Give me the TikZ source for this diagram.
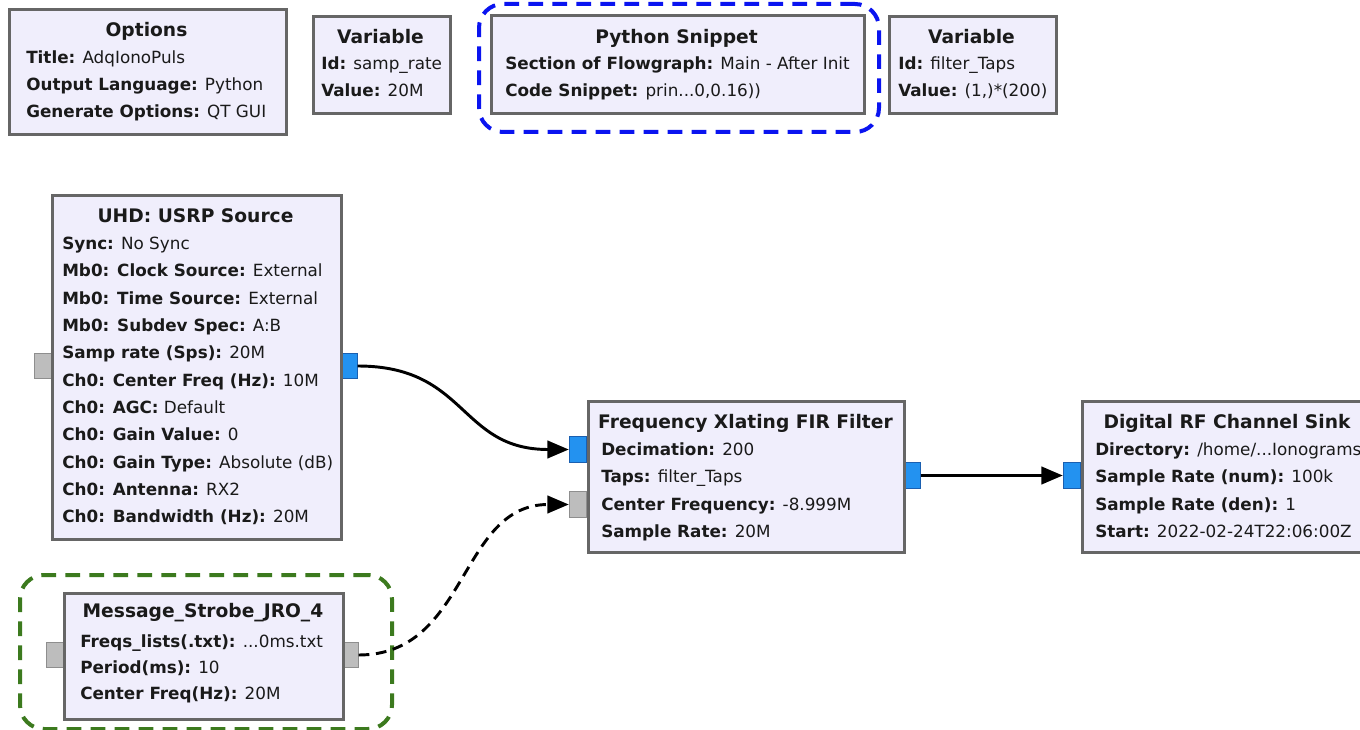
\documentclass[tikz,border=0pt]{standalone}
\usepackage{fontspec}
\setmainfont{DejaVu Sans}
\usetikzlibrary{arrows.meta}

\definecolor{blkfill}{HTML}{F0EEFC}
\definecolor{blkborder}{HTML}{666666}
\definecolor{txtcol}{HTML}{1A1A1A}
\definecolor{portblue}{HTML}{2392F0}
\definecolor{portblueedge}{HTML}{1A5FB0}
\definecolor{portgray}{HTML}{BDBDBD}
\definecolor{portgrayedge}{HTML}{8E8E8E}
\definecolor{hlblue}{HTML}{0A14F0}
\definecolor{hlgreen}{HTML}{3C7A1E}

\tikzset{
  blk/.style={draw=blkborder, fill=blkfill, line width=2.2pt},
  hl/.style={line width=3pt, dash pattern=on 11pt off 7pt, rounded corners=18pt},
  streamport/.style={draw=portblueedge, fill=portblue, line width=0.8pt},
  msgport/.style={draw=portgrayedge, fill=portgray, line width=0.8pt},
  ln/.style={anchor=mid west, inner sep=0pt, yshift=-1.5pt, font=\fontsize{12.6}{15}\selectfont, text=txtcol},
  ttl/.style={anchor=mid, inner sep=0pt, yshift=-2.2pt, font=\fontsize{14}{16}\selectfont\bfseries, text=txtcol},
  wire/.style={line width=2.2pt, -{Triangle[length=16pt,width=13pt]}},
  msgwire/.style={wire, dash pattern=on 8pt off 5pt},
}

% rectangle node given by its corners in pixel units
\newcommand\fgrect[6]{%
  \node[#1, rectangle, inner sep=0pt, anchor=north west,
        minimum width={(#5-#3)*0.75pt}, minimum height={(#6-#4)*0.75pt}]
        (#2) at (#3,#4) {};}
% port square centred at a point
\newcommand\fgport[4]{%
  \node[#1, rectangle, inner sep=0pt, minimum width=13pt, minimum height=19pt]
        (#2) at (#3,#4) {};}

\begin{document}
\begin{tikzpicture}[x=0.75pt, y=-0.75pt]
\clip (0,0) rectangle (1360,730);
\fill[white] (0,0) rectangle (1360,730);

% ---------- top row: options and variables ----------
\fgrect{blk}{opt}{8}{8}{285}{133}
\node[ttl] (opt-t) at (146.5,30) {Options};
\node[ln] (opt-1) at (26,58) {\textbf{Title:} AdqIonoPuls};
\node[ln] (opt-2) at (26,85) {\textbf{Output Language:} Python};
\node[ln] (opt-3) at (26,112) {\textbf{Generate Options:} QT GUI};

\fgrect{blk}{var1}{312}{15}{449}{112}
\node[ttl] (var1-t) at (380.5,37) {Variable};
\node[ln] (var1-1) at (321,64) {\textbf{Id:} samp\_rate};
\node[ln] (var1-2) at (321,91) {\textbf{Value:} 20M};

\fgrect{hl, draw=hlblue}{snip-hl}{477}{2}{877}{130}
\fgrect{blk}{snip}{490}{14}{863}{112}
\node[ttl] (snip-t) at (676.5,37) {Python Snippet};
\node[ln] (snip-1) at (505,64) {\textbf{Section of Flowgraph:} Main - After Init};
\node[ln] (snip-2) at (505,91) {\textbf{Code Snippet:} prin...0,0.16))};

\fgrect{blk}{var2}{888}{15}{1055}{112}
\node[ttl] (var2-t) at (971.5,37) {Variable};
\node[ln] (var2-1) at (898,64) {\textbf{Id:} filter\_Taps};
\node[ln] (var2-2) at (898,91) {\textbf{Value:} (1,)*(200)};

% ---------- USRP source ----------
\fgport{msgport}{usrp-in}{43}{366}
\fgport{streamport}{usrp-out}{348.5}{366}
\fgrect{blk}{usrp}{51}{194}{340}{538}
\node[ttl] (usrp-t) at (195.5,216) {UHD: USRP Source};
\node[ln] (usrp-1) at (62,244) {\textbf{Sync:} No Sync};
\node[ln] (usrp-2) at (62,271.3) {\textbf{Mb0: Clock Source:} External};
\node[ln] (usrp-3) at (62,298.6) {\textbf{Mb0: Time Source:} External};
\node[ln] (usrp-4) at (62,325.9) {\textbf{Mb0: Subdev Spec:} A:B};
\node[ln] (usrp-5) at (62,353.2) {\textbf{Samp rate (Sps):} 20M};
\node[ln] (usrp-6) at (62,380.5) {\textbf{Ch0: Center Freq (Hz):} 10M};
\node[ln] (usrp-7) at (62,407.8) {\textbf{Ch0: AGC:} Default};
\node[ln] (usrp-8) at (62,435.1) {\textbf{Ch0: Gain Value:} 0};
\node[ln] (usrp-9) at (62,462.4) {\textbf{Ch0: Gain Type:} Absolute (dB)};
\node[ln] (usrp-10) at (62,489.7) {\textbf{Ch0: Antenna:} RX2};
\node[ln] (usrp-11) at (62,517) {\textbf{Ch0: Bandwidth (Hz):} 20M};

% ---------- frequency xlating filter ----------
\fgport{streamport}{fir-in1}{578}{449.5}
\fgport{msgport}{fir-in2}{578}{504.5}
\fgport{streamport}{fir-out}{911.5}{475.5}
\fgrect{blk}{fir}{587}{400}{903}{551}
\node[ttl] (fir-t) at (745.5,422) {Frequency Xlating FIR Filter};
\node[ln] (fir-1) at (601,450) {\textbf{Decimation:} 200};
\node[ln] (fir-2) at (601,477) {\textbf{Taps:} filter\_Taps};
\node[ln] (fir-3) at (601,505) {\textbf{Center Frequency:} -8.999M};
\node[ln] (fir-4) at (601,532) {\textbf{Sample Rate:} 20M};

% ---------- digital RF sink ----------
\fgport{streamport}{sink-in}{1072}{475.5}
\fgrect{blk}{sink}{1081}{400}{1373}{551}
\node[ttl] (sink-t) at (1227,422) {Digital RF Channel Sink};
\node[ln] (sink-1) at (1095,450) {\textbf{Directory:} /home/...Ionograms};
\node[ln] (sink-2) at (1095,477) {\textbf{Sample Rate (num):} 100k};
\node[ln] (sink-3) at (1095,505) {\textbf{Sample Rate (den):} 1};
\node[ln] (sink-4) at (1095,532) {\textbf{Start:} 2022-02-24T22:06:00Z};

% ---------- message strobe ----------
\fgrect{hl, draw=hlgreen}{strobe-hl}{18}{573}{390}{727}
\fgport{msgport}{strobe-in}{55.5}{655}
\fgport{msgport}{strobe-out}{349.5}{655}
\fgrect{blk}{strobe}{63}{592}{342}{718}
\node[ttl] (strobe-t) at (203,611) {Message\_Strobe\_JRO\_4};
\node[ln] (strobe-1) at (80,642) {\textbf{Freqs\_lists(.txt):} ...0ms.txt};
\node[ln] (strobe-2) at (80,668) {\textbf{Period(ms):} 10};
\node[ln] (strobe-3) at (80,694) {\textbf{Center Freq(Hz):} 20M};

% ---------- connections ----------
\draw[wire] (usrp-out.east) .. controls +(110,0) and +(-110,0) .. (fir-in1.west);
\draw[msgwire] (strobe-out.east) .. controls +(110,0) and +(-110,0) .. (fir-in2.west);
\draw[wire] (fir-out.east) -- (sink-in.west);
\end{tikzpicture}
\end{document}
